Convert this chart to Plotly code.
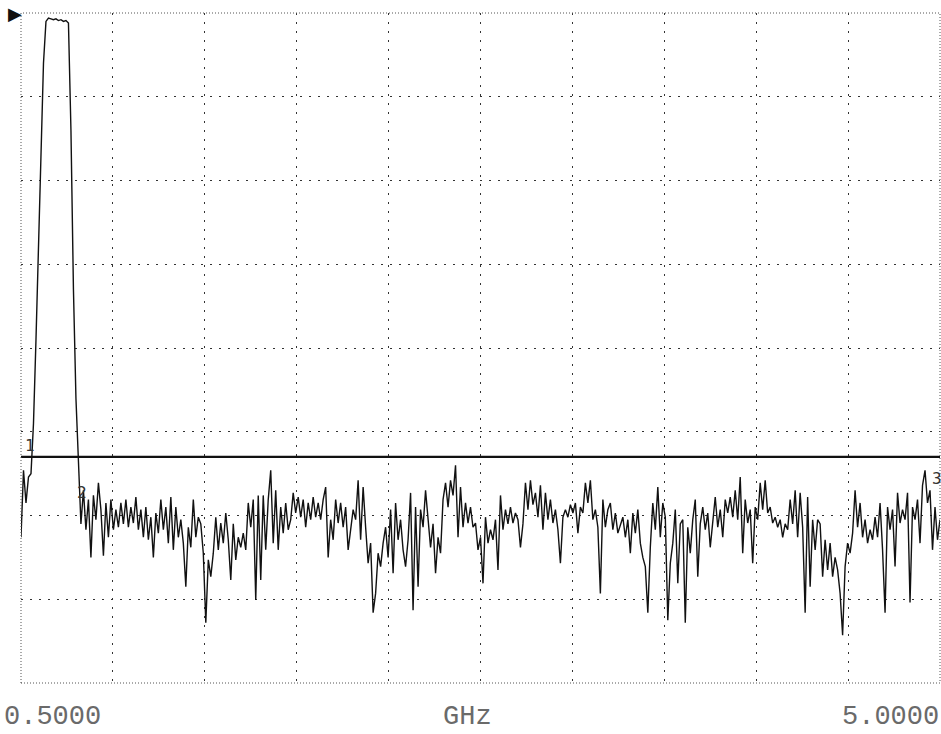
import numpy as np
import plotly.graph_objects as go

# ---- data -------------------------------------------------------------
START_GHZ = 0.5
STOP_GHZ = 5.0
REF_LEVEL_DB = 0.0
BOTTOM_DB = -80.0
DB_PER_DIV = 10.0
X_DIVS = 10
DISPLAY_LINE_DB = -53.0

START_LABEL = "0.5000"
STOP_LABEL = "5.0000"
UNIT_LABEL = "GHz"

# trace levels (dB rel. reference), one per sweep point
LEVELS = [
    -62.6, -54.6, -58.5, -55.4, -55.0, -49.0, -39.0, -27.0, -15.0, -6.0,
    -1.0, -0.6, -0.7, -0.8, -0.7, -0.9, -0.8, -1.0, -0.9, -1.2,
    -14.0, -33.0, -46.0, -54.0, -61.0, -57.0, -61.7, -58.1, -65.0, -57.6,
    -60.5, -56.1, -59.3, -64.8, -58.5, -62.6, -58.1, -61.7, -59.3, -61.4,
    -58.5, -61.0, -58.1, -61.4, -59.0, -60.9, -57.8, -61.7, -59.3, -62.6,
    -59.0, -62.9, -60.2, -65.0, -59.7, -62.1, -58.1, -61.7, -59.0, -63.3,
    -57.8, -64.1, -59.0, -62.6, -60.5, -63.3, -68.5, -61.4, -63.8, -58.1,
    -62.6, -60.2, -61.0, -64.5, -72.8, -65.3, -67.3, -64.5, -60.2, -64.1,
    -60.9, -63.3, -59.7, -62.9, -67.7, -61.0, -65.3, -62.6, -63.8, -62.1,
    -64.1, -58.5, -61.4, -58.1, -70.1, -57.6, -67.7, -57.6, -64.1, -58.1,
    -54.6, -63.3, -57.0, -64.1, -59.0, -62.1, -58.5, -61.7, -60.5, -57.3,
    -59.7, -57.8, -60.2, -58.1, -61.4, -58.5, -60.5, -57.8, -60.2, -58.5,
    -60.5, -58.1, -56.6, -65.0, -60.5, -62.9, -58.1, -60.9, -58.5, -61.4,
    -59.0, -64.1, -61.7, -59.3, -60.5, -55.8, -62.9, -56.6, -61.4, -65.7,
    -63.3, -71.6, -69.3, -64.5, -66.1, -63.3, -61.4, -65.0, -59.3, -66.9,
    -58.5, -62.9, -60.5, -64.1, -66.1, -62.9, -57.3, -71.3, -59.0, -68.5,
    -59.3, -61.4, -57.0, -60.9, -63.8, -61.0, -66.9, -62.6, -64.5, -58.1,
    -56.1, -59.0, -55.8, -57.6, -54.0, -62.6, -56.6, -61.4, -58.5, -60.9,
    -59.0, -61.4, -60.9, -64.1, -62.6, -68.1, -60.2, -63.3, -61.7, -62.9,
    -60.5, -66.5, -57.6, -61.7, -59.3, -61.0, -59.0, -60.9, -59.7, -60.5,
    -63.8, -61.0, -56.1, -59.3, -55.8, -58.7, -57.3, -60.2, -56.4, -61.7,
    -57.3, -60.5, -58.1, -60.9, -59.3, -61.7, -65.7, -60.2, -59.3, -60.2,
    -58.7, -59.7, -58.5, -62.1, -59.0, -59.7, -56.1, -58.5, -55.8, -60.5,
    -59.3, -61.4, -69.3, -58.1, -61.4, -59.3, -58.5, -61.7, -59.7, -62.1,
    -61.0, -60.2, -62.6, -60.5, -64.5, -59.7, -62.1, -59.3, -63.3, -65.0,
    -66.1, -71.6, -63.8, -58.5, -61.7, -56.6, -62.6, -58.5, -60.2, -72.5,
    -65.7, -63.3, -59.3, -68.1, -61.0, -60.5, -72.8, -61.4, -64.5, -60.5,
    -58.1, -67.3, -61.0, -59.0, -61.7, -59.7, -63.8, -60.5, -57.8, -61.4,
    -59.3, -62.6, -58.1, -59.7, -57.8, -60.2, -57.0, -60.5, -55.4, -64.5,
    -58.1, -60.9, -59.3, -65.7, -59.0, -60.5, -56.1, -59.3, -55.8, -59.7,
    -59.0, -60.9, -60.2, -61.4, -60.5, -62.6, -61.0, -61.7, -58.1, -61.0,
    -57.0, -62.6, -57.3, -61.4, -71.6, -57.8, -68.5, -60.5, -64.1, -60.5,
    -61.0, -67.3, -62.9, -66.5, -63.3, -67.3, -65.0, -66.5, -69.3, -74.3,
    -66.1, -63.3, -64.5, -62.1, -57.0, -61.4, -58.5, -62.6, -60.5, -63.3,
    -61.7, -62.9, -60.2, -62.6, -58.5, -64.1, -71.6, -59.0, -61.7, -59.3,
    -66.1, -57.3, -60.9, -59.3, -60.5, -57.3, -70.4, -59.0, -60.5, -58.1,
    -63.3, -56.4, -54.6, -58.5, -57.0, -64.1, -59.0, -62.9, -60.5,
]

# marker labels: frequency (GHz), level (dB), text
MARKER_FREQS = [0.545, 0.80, 4.985]
MARKER_LEVELS = [-51.6, -57.2, -55.6]
MARKER_TEXTS = ["1", "2", "3"]

# ---- figure -----------------------------------------------------------
freqs = np.linspace(START_GHZ, STOP_GHZ, len(LEVELS))

fig = go.Figure()
fig.add_trace(go.Scatter(
    x=freqs, y=LEVELS, mode="lines",
    line=dict(color="#111111", width=1.4),
    hoverinfo="skip", showlegend=False,
))

fig.add_hline(y=DISPLAY_LINE_DB, line=dict(color="#111111", width=2.2))

# dotted frame
fig.add_shape(type="rect", xref="paper", yref="paper", x0=0, y0=0, x1=1, y1=1,
              line=dict(color="#555555", width=1, dash="1px,2px"), layer="above")

for f, lv, t in zip(MARKER_FREQS, MARKER_LEVELS, MARKER_TEXTS):
    fig.add_annotation(x=f, y=lv, text=t, showarrow=False,
                       font=dict(family="DejaVu Sans Mono", size=16, color="#333333"))

# reference level indicator
fig.add_annotation(xref="paper", yref="paper", x=0, y=1, text="\u25B6",
                   showarrow=False, xanchor="right", yanchor="middle", xshift=3,
                   font=dict(family="DejaVu Sans", size=18, color="#111111"))

label_font = dict(family="Liberation Mono", size=27, color="#6a6a6a")
common = dict(xref="paper", yref="paper", y=0, showarrow=False, yanchor="middle",
              yshift=-34, borderpad=0, font=label_font)
fig.add_annotation(x=0, text=START_LABEL, xanchor="left", xshift=-18, **common)
fig.add_annotation(x=0.486, text=UNIT_LABEL, xanchor="center", **common)
fig.add_annotation(x=1, text=STOP_LABEL, xanchor="right", xshift=0, **common)

grid = dict(showgrid=True, gridcolor="#333333", gridwidth=1.3, griddash="2px,7px",
            showticklabels=False, ticks="", zeroline=False, showline=False, fixedrange=True)

fig.update_xaxes(range=[START_GHZ, STOP_GHZ], tick0=START_GHZ,
                 dtick=(STOP_GHZ - START_GHZ) / X_DIVS, **grid)
fig.update_yaxes(range=[BOTTOM_DB, REF_LEVEL_DB], tick0=BOTTOM_DB, dtick=DB_PER_DIV, **grid)

fig.update_layout(
    width=941, height=734,
    margin=dict(l=21, r=1, t=13, b=51),
    paper_bgcolor="white", plot_bgcolor="white",
    showlegend=False,
)

fig.write_html(
    "out.html",
    config={"displayModeBar": False},
    post_script="document.body.style.margin='0';document.body.style.overflow='hidden';",
)
